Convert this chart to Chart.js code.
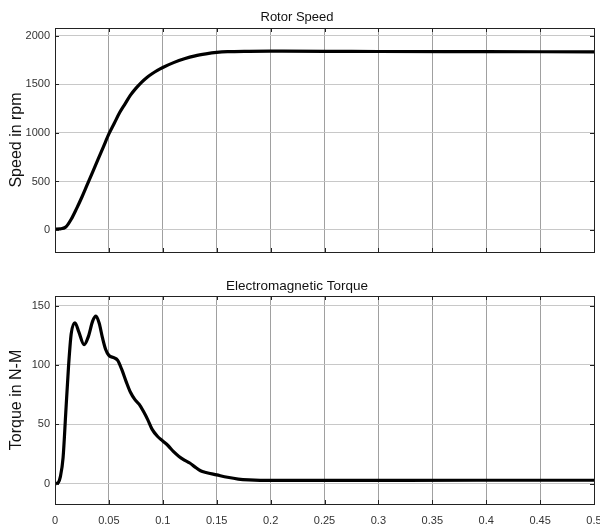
<!DOCTYPE html>
<html>
<head>
<meta charset="utf-8">
<script src="https://cdn.jsdelivr.net/npm/chart.js@4/dist/chart.umd.min.js"></script>
<style>
  html, body { margin: 0; padding: 0; background: #fff; }
  #wrap { position: relative; width: 600px; height: 529px; overflow: hidden; }
  .box { position: absolute; left: 0; width: 600px; }
  #b1 { top: 0; height: 260px; }
  #b2 { top: 260px; height: 269px; }
</style>
</head>
<body>
<div id="wrap">
  <div class="box" id="b1"><canvas id="c1" width="600" height="260"></canvas></div>
  <div class="box" id="b2"><canvas id="c2" width="600" height="269"></canvas></div>
</div>
<script>
// ---- data ----
const speedTime = [0, 0.005, 0.01, 0.015, 0.02, 0.025, 0.03, 0.035, 0.04, 0.045, 0.05, 0.055, 0.06, 0.065, 0.07, 0.075, 0.08, 0.085, 0.09, 0.095, 0.1, 0.11, 0.12, 0.13, 0.14, 0.15, 0.16, 0.18, 0.2, 0.25, 0.3, 0.4, 0.5];
const speedRpm  = [10, 12, 30, 110, 220, 340, 470, 600, 730, 860, 990, 1100, 1210, 1300, 1390, 1460, 1520, 1570, 1610, 1645, 1675, 1725, 1765, 1795, 1815, 1830, 1838, 1842, 1843, 1842, 1840, 1838, 1836];

const torqueTime = [0, 0.003, 0.005, 0.0075, 0.01, 0.0125, 0.015, 0.0185, 0.022, 0.027, 0.031, 0.035, 0.038, 0.041, 0.044, 0.047, 0.05, 0.055, 0.058, 0.062, 0.066, 0.07, 0.074, 0.078, 0.082, 0.086, 0.09, 0.095, 0.1, 0.105, 0.11, 0.115, 0.12, 0.125, 0.13, 0.135, 0.14, 0.15, 0.16, 0.17, 0.18, 0.2, 0.3, 0.4, 0.5];
const torqueNm   = [0, 1, 6, 22, 60, 98, 126, 135.5, 128, 117, 124, 137, 141, 135, 123, 113, 108, 106, 104, 96, 86, 77, 71, 67, 61, 54, 46, 40, 36, 32, 27, 23, 20, 17.5, 14, 11, 9.5, 7.5, 5.5, 4, 3.3, 2.8, 2.9, 3, 3];

const xTicks = [0, 0.05, 0.1, 0.15, 0.2, 0.25, 0.3, 0.35, 0.4, 0.45, 0.5];
const xTickLabels = ['0', '0.05', '0.1', '0.15', '0.2', '0.25', '0.3', '0.35', '0.4', '0.45', '0.5'];
const speedTicks = [0, 500, 1000, 1500, 2000];
const torqueTicks = [0, 50, 100, 150];

const FONT = "'Liberation Sans', Arial, sans-serif";

// frame + inward MATLAB-style ticks drawn through the chart's scales
const framePlugin = {
  id: 'frame',
  afterDraw(chart) {
    const {ctx, chartArea: a, scales} = chart;
    ctx.save();
    ctx.strokeStyle = '#222';
    ctx.lineWidth = 1;
    ctx.strokeRect(Math.round(a.left) + 0.5, Math.round(a.top) + 0.5,
                   Math.round(a.right - a.left), Math.round(a.bottom - a.top));
    const L = 4;
    ctx.beginPath();
    scales.x.ticks.forEach(t => {
      const px = Math.round(scales.x.getPixelForValue(t.value)) + 0.5;
      ctx.moveTo(px, a.top); ctx.lineTo(px, a.top + L);
      ctx.moveTo(px, a.bottom); ctx.lineTo(px, a.bottom - L);
    });
    scales.y.ticks.forEach(t => {
      const py = Math.round(scales.y.getPixelForValue(t.value)) + 0.5;
      ctx.moveTo(a.left, py); ctx.lineTo(a.left + L, py);
      ctx.moveTo(a.right, py); ctx.lineTo(a.right - L, py);
    });
    ctx.stroke();
    ctx.restore();
  }
};

function makeChart(id, times, values, opts) {
  return new Chart(document.getElementById(id), {
    type: 'line',
    data: {
      datasets: [{
        data: times.map((t, i) => ({x: t, y: values[i]})),
        borderColor: '#000',
        borderWidth: 3.2,
        pointRadius: 0,
        cubicInterpolationMode: 'monotone',
        fill: false
      }]
    },
    options: {
      responsive: false,
      animation: false,
      events: [],
      layout: { padding: { left: 0, right: 6, top: 0, bottom: 0 } },
      plugins: {
        legend: { display: false },
        tooltip: { enabled: false },
        title: {
          display: true,
          text: opts.title,
          color: '#111',
          font: { family: FONT, size: opts.titleSize, weight: 'normal' },
          padding: opts.titlePad
        }
      },
      scales: {
        x: {
          type: 'linear',
          min: 0, max: 0.5,
          border: { display: false },
          grid: { color: '#a0a0a0', lineWidth: 1, drawTicks: false },
          afterBuildTicks(s) { s.ticks = xTicks.map(v => ({value: v})); },
          ticks: {
            display: opts.showX,
            padding: 10,
            maxRotation: 0,
            autoSkip: false,
            color: '#333',
            font: { family: FONT, size: 11 },
            callback: (v, i) => xTickLabels[i]
          },
          afterFit(s) { s.height = opts.xHeight; s.paddingLeft = 0; s.paddingRight = 0; }
        },
        y: {
          min: opts.ymin, max: opts.ymax,
          border: { display: false },
          grid: { color: '#c8c8c8', lineWidth: 1, drawTicks: false },
          afterBuildTicks(s) { s.ticks = opts.yticks.map(v => ({value: v})); },
          ticks: {
            autoSkip: false,
            padding: 5,
            color: '#333',
            font: { family: FONT, size: 11 },
            callback: v => String(v)
          },
          title: {
            display: true,
            text: opts.ytitle,
            color: '#111',
            font: { family: FONT, size: 16 },
            padding: { top: 7, bottom: 0 }
          },
          afterFit(s) { s.width = 55; s.paddingTop = 0; s.paddingBottom = 0; }
        }
      }
    },
    plugins: [framePlugin]
  });
}

makeChart('c1', speedTime, speedRpm, {
  title: 'Rotor Speed',
  titleSize: 13,
  titlePad: { top: 10, bottom: 2.4 },
  ytitle: 'Speed in rpm',
  ymin: -227, ymax: 2082, yticks: speedTicks,
  showX: false, xHeight: 8
});

makeChart('c2', torqueTime, torqueNm, {
  title: 'Electromagnetic Torque',
  titleSize: 13.5,
  titlePad: { top: 18.5, bottom: 1.3 },
  ytitle: 'Torque in N-M',
  ymin: -17, ymax: 158, yticks: torqueTicks,
  showX: true, xHeight: 25
});
</script>
</body>
</html>
